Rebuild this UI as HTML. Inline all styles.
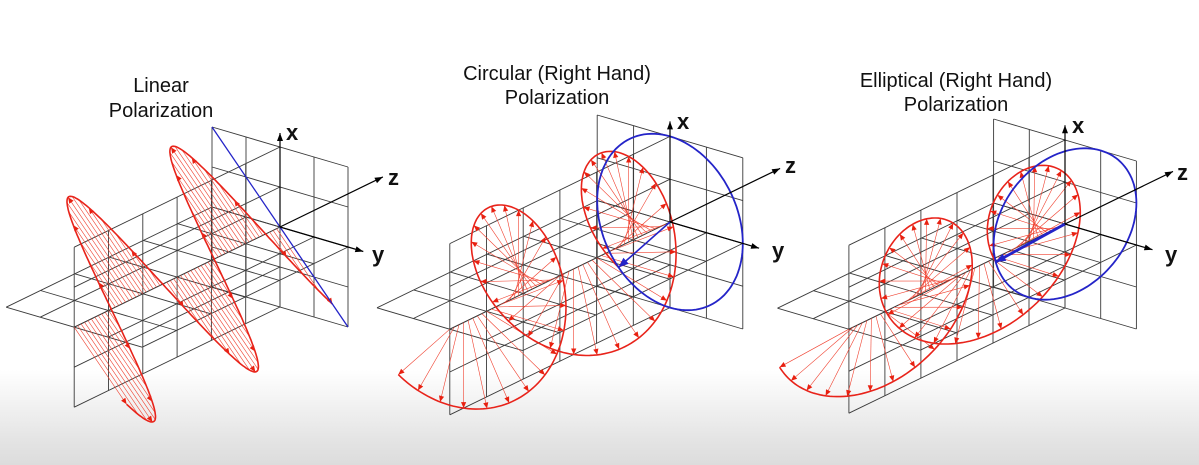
<!DOCTYPE html>
<html><head><meta charset="utf-8">
<style>
html,body{margin:0;padding:0;}
body{width:1199px;height:465px;overflow:hidden;background:linear-gradient(#ffffff 0px,#ffffff 370px,#e4e4e4 440px,#dcdcdc 465px);font-family:"Liberation Sans",sans-serif;}
svg{position:absolute;left:0;top:0;}
.t{font-family:"Liberation Sans",sans-serif;font-size:20px;fill:#111;text-anchor:middle;}
.a{font-family:"Liberation Sans",sans-serif;font-size:22px;font-weight:bold;fill:#111;}
</style></head>
<body>
<svg id="s" width="1199" height="465" xmlns="http://www.w3.org/2000/svg">
<g id="g"></g>
<text class="t" x="161" y="92">Linear</text>
<text class="t" x="161" y="117">Polarization</text>
<text class="t" x="557" y="80">Circular (Right Hand)</text>
<text class="t" x="557" y="104">Polarization</text>
<text class="t" x="956" y="87">Elliptical (Right Hand)</text>
<text class="t" x="956" y="111">Polarization</text>
<text class="a" x="286" y="140">x</text>
<text class="a" x="388" y="185">z</text>
<text class="a" x="372" y="262">y</text>
<text class="a" x="677" y="129">x</text>
<text class="a" x="785" y="173">z</text>
<text class="a" x="772" y="258">y</text>
<text class="a" x="1072" y="133">x</text>
<text class="a" x="1177" y="180">z</text>
<text class="a" x="1165" y="262">y</text>
</svg>
<script>
(function(){
var g=document.getElementById('g');
var grid='',red='',blue='',axes='';
function L(a,b,c,w){return '<line x1="'+a[0].toFixed(1)+'" y1="'+a[1].toFixed(1)+'" x2="'+b[0].toFixed(1)+'" y2="'+b[1].toFixed(1)+'" stroke="'+c+'" stroke-width="'+w+'"/>';}
function head(a,b,c,len,wid){var dx=b[0]-a[0],dy=b[1]-a[1],d=Math.sqrt(dx*dx+dy*dy);if(d<len+1)return '';var ux=dx/d,uy=dy/d;var bx=b[0]-ux*len,by=b[1]-uy*len;
return '<polygon points="'+b[0].toFixed(1)+','+b[1].toFixed(1)+' '+(bx-uy*wid).toFixed(1)+','+(by+ux*wid).toFixed(1)+' '+(bx+uy*wid).toFixed(1)+','+(by-ux*wid).toFixed(1)+'" fill="'+c+'"/>';}
function panel(O,s,E,blueFn,blueArrowW,headEvery,step){
 var ey=[34*s,10*s],ex=[0,-40*s],ez=[34.3*s,-16.7*s];
 function P(x,y,z){return [O[0]+y*ey[0]+z*ez[0],O[1]+x*ex[1]+y*ey[1]+z*ez[1]];}
 var gc='#3a3a3a',gw=0.9,i,z,e,p,a,b;
 for(i=-2;i<=2;i++)grid+=L(P(0,i,-6),P(0,i,0),gc,gw);
 for(i=-6;i<=0;i++)grid+=L(P(0,-2,i),P(0,2,i),gc,gw);
 for(i=-2;i<=2;i++)grid+=L(P(i,0,-6),P(i,0,0),gc,gw);
 for(i=-6;i<=0;i++)grid+=L(P(-2,0,i),P(2,0,i),gc,gw);
 for(i=-2;i<=2;i++){grid+=L(P(i,-2,0),P(i,2,0),gc,gw);grid+=L(P(-2,i,0),P(2,i,0),gc,gw);}
 var o=P(0,0,0);
 axes+=L(o,P(2.35,0,0),'#000',1.2)+head(o,P(2.35,0,0),'#000',8,3);
 axes+=L(o,P(0,2.45,0),'#000',1.2)+head(o,P(0,2.45,0),'#000',8,3);
 axes+=L(o,P(0,0,3),'#000',1.2)+head(o,P(0,0,3),'#000',8,3);
 var pts=[],n=0;
 for(z=-6;z<=0.0001;z+=0.02){e=E(z);p=P(e[0],e[1],z);pts.push(p[0].toFixed(1)+','+p[1].toFixed(1));}
 for(z=-6;z<=0.0001;z+=step){e=E(z);a=P(0,0,z);b=P(e[0],e[1],z);
  red+=L(a,b,'#f0402f',0.6);
  if(n%headEvery==0)red+=head(a,b,'#e82010',6,2.6);n++;}
 red+='<polyline points="'+pts.join(' ')+'" fill="none" stroke="#e8231a" stroke-width="1.6"/>';
 if(blueFn){
  var bp=[];
  for(i=0;i<=360;i+=3){e=blueFn(i*Math.PI/180);p=P(e[0],e[1],0);bp.push(p[0].toFixed(1)+','+p[1].toFixed(1));}
  blue+='<polyline points="'+bp.join(' ')+'" fill="none" stroke="#2424c8" stroke-width="1.8"/>';
 }
 if(blueArrowW){var e0=E(0);var tip=P(e0[0],e0[1],0);blue+=L(o,tip,'#2424c8',blueArrowW)+head(o,tip,'#2424c8',10,4);}
}
var D=Math.PI/180;
panel([280,227],1,function(z){var a=2*Math.cos(2*Math.PI*(z+1.17)/3);return [a,-a];},null,0,3,0.1);
(function(){var O=[280,227];blue+=L([O[0]-68,O[1]-100],[O[0]+68,O[1]+100],'#2424c8',1.3);})();
panel([670,222],1.07,function(z){var t=(225-120*z)*D;return [2*Math.cos(t),2*Math.sin(t)];},
 function(t){return [2*Math.cos(t),2*Math.sin(t)];},1.6,1,0.125);
panel([1065,224],1.05,function(z){var t=(134+120*z)*D;return [2*Math.cos(t),2*Math.cos(t+60*D)];},
 function(t){return [2*Math.cos(t),2*Math.cos(t+60*D)];},2.8,1,0.125);
g.innerHTML='<g>'+grid+'</g><g>'+red+'</g><g>'+blue+'</g><g>'+axes+'</g>';
})();
</script>
</body></html>
